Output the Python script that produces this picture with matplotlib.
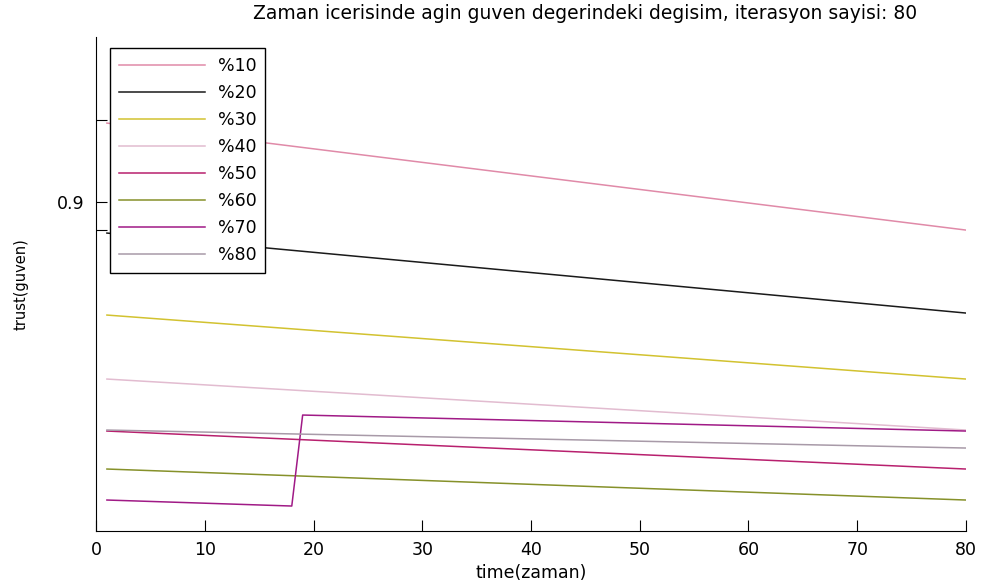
import matplotlib.pyplot as plt
import numpy as np

plt.rcParams['font.family'] = ['DejaVu Sans']

# series: (x points, trust values)
labels = ['%10', '%20', '%30', '%40', '%50', '%60', '%70', '%80']
x_lin = [1, 80]
trust_10 = [0.9395, 0.886]
trust_20 = [0.8845, 0.8445]
trust_30 = [0.8435, 0.8115]
trust_40 = [0.8115, 0.786]
trust_50 = [0.7855, 0.7665]
trust_60 = [0.7665, 0.751]
x_70 = [1, 18, 19, 80]
trust_70 = [0.751, 0.748, 0.7935, 0.7855]
trust_80 = [0.786, 0.777]

colors = ['#e08aa8', '#1a1a1a', '#d2c230', '#e2bcd0',
          '#b8206e', '#86912a', '#a01a86', '#a89aa8']

xticks = [0, 10, 20, 30, 40, 50, 60, 70, 80]
yticks = [0.941, 0.9, 0.886]
yticklabels = ['', '0.9', '']

fig = plt.figure(figsize=(9.86, 5.88), dpi=100)
ax = fig.add_axes([0.0974, 0.0969, 0.8823, 0.840])

series = [(x_lin, trust_10), (x_lin, trust_20), (x_lin, trust_30), (x_lin, trust_40),
          (x_lin, trust_50), (x_lin, trust_60), (x_70, trust_70), (x_lin, trust_80)]
for (xs, ys), lab, c in zip(series, labels, colors):
    ax.plot(xs, ys, color=c, lw=1.1, label=lab)

ax.set_xlim(0, 80)
ax.set_ylim(0.7355, 0.9825)
ax.set_xticks(xticks)
ax.set_yticks(yticks)
ax.set_yticklabels(yticklabels)
ax.tick_params(direction='in', length=8, labelsize=12.5, colors='black')
ax.tick_params(axis='x', pad=7)
ax.tick_params(axis='y', pad=8)
ax.spines['top'].set_visible(False)
ax.spines['right'].set_visible(False)

ax.set_title('Zaman icerisinde agin guven degerindeki degisim, iterasyon sayisi: 80',
             fontsize=13.5, pad=13, x=0.562)
ax.set_xlabel('time(zaman)', fontsize=12.5, labelpad=4)
ax.set_ylabel('trust(guven)', fontsize=10.5)
ax.yaxis.set_label_coords(-0.078, 0.5)

leg = ax.legend(loc='upper left', bbox_to_anchor=(0.016, 0.978), fontsize=12.5,
                handlelength=5.0, labelspacing=0.52, fancybox=False, framealpha=1,
                borderaxespad=0, borderpad=0.5, handletextpad=0.7)
leg.get_frame().set_edgecolor('black')
leg.get_frame().set_linewidth(1.0)

fig.savefig('out.png', dpi=100)
